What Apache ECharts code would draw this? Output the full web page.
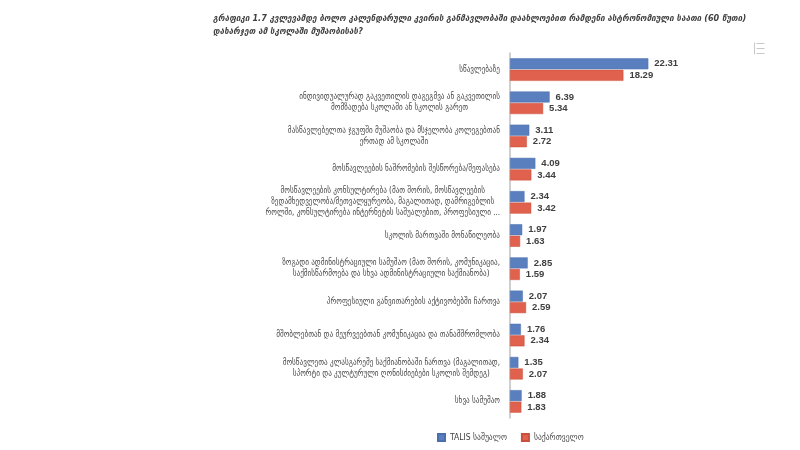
<!DOCTYPE html>
<html>
<head>
<meta charset="utf-8">
<script src="https://cdn.jsdelivr.net/npm/echarts@6/dist/echarts.min.js"></script>
<style>
html, body { margin: 0; padding: 0; background: #fff; }
#main { width: 800px; height: 450px; }
</style>
</head>
<body>
<div id="main"></div>
<script>
var categories = [
    'სწავლებაზე',
    'ინდივიდუალურად გაკვეთილის დაგეგმვა ან გაკვეთილის\nმომზადება სკოლაში ან სკოლის გარეთ',
    'მასწავლებელთა ჯგუფში მუშაობა და მსჯელობა კოლეგებთან\nერთად ამ სკოლაში',
    'მოსწავლეების ნაშრომების შესწორება/შეფასება',
    'მოსწავლეების კონსულტირება (მათ შორის, მოსწავლეების\nზედამხედველობა/მეთვალყურეობა, მაგალითად, დამრიგებლის\nროლში, კონსულტირება ინტერნეტის საშუალებით, პროფესიული ...',
    'სკოლის მართვაში მონაწილეობა',
    'ზოგადი ადმინისტრაციული სამუშაო (მათ შორის, კომუნიკაცია,\nსაქმისწარმოება და სხვა ადმინისტრაციული საქმიანობა)',
    'პროფესიული განვითარების აქტივობებში ჩართვა',
    'მშობლებთან და მეურვეებთან კომუნიკაცია და თანამშრომლობა',
    'მოსწავლეთა კლასგარეშე საქმიანობაში ჩართვა (მაგალითად,\nსპორტი და კულტურული ღონისძიებები სკოლის შემდეგ)',
    'სხვა სამუშაო'
];
var talisAvg = [22.31, 6.39, 3.11, 4.09, 2.34, 1.97, 2.85, 2.07, 1.76, 1.35, 1.88];
var georgia = [18.29, 5.34, 2.72, 3.44, 3.42, 1.63, 1.59, 2.59, 2.34, 2.07, 1.83];
var seriesNames = ['TALIS საშუალო', 'საქართველო'];

var myChart = echarts.init(document.getElementById('main'));

var labelStyle = {
    show: true,
    position: 'right',
    distance: 6,
    color: '#404040',
    fontSize: 9.5,
    fontWeight: 'bold',
    fontFamily: 'Liberation Sans',
    formatter: function (p) { return p.value.toFixed(2); }
};

var option = {
    backgroundColor: '#fff',
    animation: false,
    title: {
        text: 'გრაფიკი 1.7 კვლევამდე ბოლო კალენდარული კვირის განმავლობაში დაახლოებით რამდენი ასტრონომიული საათი (60 წუთი)\nდახარჯეთ ამ სკოლაში მუშაობისას?',
        left: 208,
        top: 7,
        textStyle: {
            color: '#404040',
            fontSize: 9,
            fontStyle: 'italic',
            fontWeight: 'bold',
            fontFamily: 'DejaVu Sans Condensed',
            lineHeight: 13
        }
    },
    legend: {
        bottom: 3,
        left: 432,
        itemWidth: 7,
        itemHeight: 7,
        itemGap: 14,
        icon: 'rect',
        data: seriesNames,
        textStyle: { color: '#404040', fontSize: 8.5, fontFamily: 'DejaVu Sans Condensed' }
    },
    grid: {
        left: 510,
        right: 104,
        top: 53,
        bottom: 32
    },
    xAxis: {
        type: 'value',
        min: 0,
        max: 30,
        show: false
    },
    yAxis: {
        type: 'category',
        inverse: true,
        data: categories,
        axisLine: { show: true, lineStyle: { color: '#bfbfbf', width: 1.5 } },
        axisTick: { show: false },
        axisLabel: {
            margin: 10,
            formatter: function (v) {
                return v.split('\n').map(function (s) { return '{c|' + s + '}'; }).join('\n');
            },
            rich: {
                c: {
                    color: '#474747',
                    fontSize: 8,
                    lineHeight: 11,
                    fontFamily: 'DejaVu Sans Condensed',
                    align: 'center'
                }
            }
        }
    },
    series: [
        {
            name: seriesNames[0],
            type: 'bar',
            data: talisAvg,
            barWidth: 11,
            barGap: '5%',
            itemStyle: { color: '#5a7fbf', borderColor: '#4a6eae', borderWidth: 0.5 },
            label: labelStyle
        },
        {
            name: seriesNames[1],
            type: 'bar',
            data: georgia,
            barWidth: 11,
            itemStyle: { color: '#e0614d', borderColor: '#c9503d', borderWidth: 0.5 },
            label: labelStyle
        }
    ],
    graphic: [
        {
            type: 'group',
            left: 752,
            top: 40,
            children: [
                { type: 'line', shape: { x1: 0, y1: 0, x2: 0, y2: 12 }, style: { stroke: '#c8c8c8', lineWidth: 1 } },
                { type: 'line', shape: { x1: 2, y1: 1, x2: 10, y2: 1 }, style: { stroke: '#c8c8c8', lineWidth: 1 } },
                { type: 'line', shape: { x1: 2, y1: 6, x2: 10, y2: 6 }, style: { stroke: '#c8c8c8', lineWidth: 1 } },
                { type: 'line', shape: { x1: 2, y1: 11, x2: 10, y2: 11 }, style: { stroke: '#c8c8c8', lineWidth: 1 } }
            ]
        }
    ]
};

myChart.setOption(option);
</script>
</body>
</html>
